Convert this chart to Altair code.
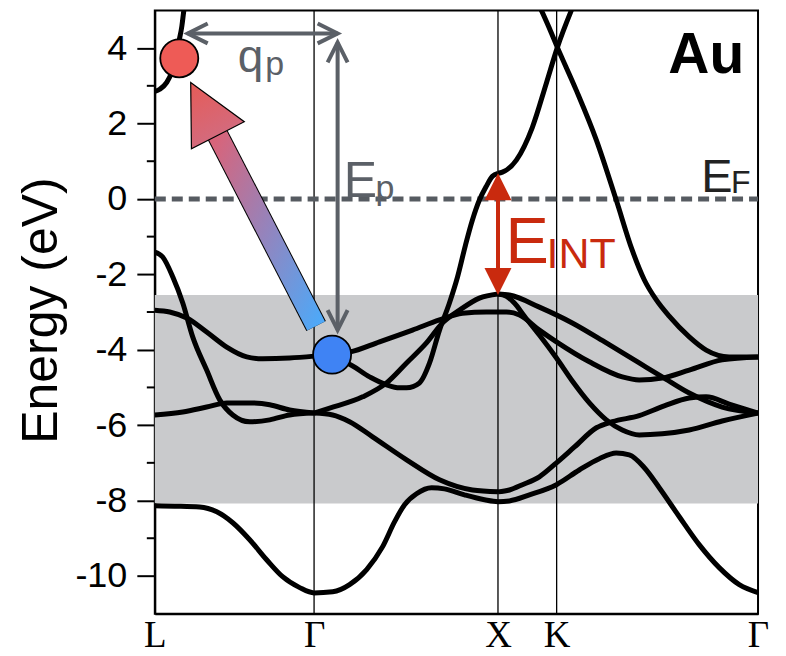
import altair as alt
import pandas as pd

# ---------------- axes / reference values ----------------
K_TICKS = [0.0, 0.866, 1.866, 2.185, 3.28]
K_NAMES = ["L", "Γ", "X", "K", "Γ"]
E_MAJOR = [-10, -8, -6, -4, -2, 0, 2, 4]
E_MINOR = [-9, -7, -5, -3, -1, 1, 3]
E_RANGE = [-11, 5]
D_WINDOW = [-8.08, -2.55]
E_FERMI = 0.0

# ---------------- band traces (k, E) ----------------
b1_k = [0, 0.109, 0.244, 0.337, 0.424, 0.516, 0.608, 0.695, 0.788, 0.866,
        0.967, 1.059, 1.152, 1.238, 1.304, 1.358, 1.423, 1.505, 1.575, 1.684,
        1.793, 1.866, 1.928, 2.037, 2.184, 2.308, 2.417, 2.509, 2.580, 2.662,
        2.743, 2.852, 2.960, 3.069, 3.178, 3.28]
b1_e = [-8.14, -8.15, -8.17, -8.30, -8.59, -9.04, -9.57, -10.02, -10.31, -10.45,
        -10.42, -10.23, -9.83, -9.23, -8.56, -8.11, -7.82, -7.66, -7.69, -7.85,
        -7.98, -8.03, -8.01, -7.85, -7.58, -7.19, -6.89, -6.74, -6.79, -7.13,
        -7.66, -8.43, -9.17, -9.78, -10.23, -10.44]

b2_k = [0, 0.152, 0.282, 0.391, 0.516, 0.625, 0.733, 0.866]
b2_e = [-5.73, -5.65, -5.52, -5.41, -5.41, -5.46, -5.60, -5.68]

b3_k = [0, 0.043, 0.098, 0.152, 0.206, 0.282, 0.353, 0.424, 0.516, 0.625, 0.733, 0.866]
b3_e = [-1.41, -1.54, -2.07, -2.76, -3.66, -4.54, -5.33, -5.73, -5.91, -5.86, -5.73, -5.68]

b4_k = [0, 0.081, 0.174, 0.282, 0.391, 0.500, 0.587, 0.733, 0.866]
b4_e = [-2.95, -3.00, -3.16, -3.53, -3.93, -4.19, -4.24, -4.22, -4.17]

b5_k = [0, 0.027, 0.065, 0.092, 0.114, 0.130, 0.147, 0.158, 0.168]
b5_e = [2.85, 2.91, 3.09, 3.36, 3.73, 4.15, 4.58, 5.0, 5.3]

b6_k = [0.866, 0.967, 1.059, 1.222, 1.401, 1.548, 1.673, 1.803, 1.866]
b6_e = [-4.17, -4.11, -4.06, -3.79, -3.48, -3.21, -3.03, -3.00, -3.00]

b7_k = [0.866, 0.967, 1.043, 1.168, 1.260, 1.331, 1.369, 1.439, 1.494, 1.548,
        1.602, 1.646, 1.689, 1.727, 1.765, 1.803, 1.836, 1.866]
b7_e = [-4.17, -4.27, -4.35, -4.72, -4.93, -5.01, -5.01, -4.88, -4.35, -3.48,
        -2.76, -2.07, -1.23, -0.56, -0.03, 0.34, 0.60, 0.68]

b8_k = [0.866, 0.951, 1.130, 1.260, 1.369, 1.477, 1.564, 1.657, 1.765, 1.866]
b8_e = [-5.68, -5.55, -5.25, -4.88, -4.35, -3.82, -3.29, -2.95, -2.63, -2.52]

b9_k = [0.866, 0.967, 1.059, 1.184, 1.369, 1.548, 1.727, 1.866]
b9_e = [-5.68, -5.73, -5.91, -6.31, -6.92, -7.45, -7.72, -7.77]

b10_k = [1.866, 1.890, 1.966, 2.053, 2.129, 2.189, 2.265, 2.287]
b10_e = [0.68, 0.71, 1.03, 1.90, 3.07, 4.02, 5.0, 5.26]

b11_k = [2.075, 2.102, 2.146, 2.189, 2.292, 2.401, 2.509, 2.596, 2.662, 2.727,
         2.797, 2.906, 2.998, 3.123, 3.28]
b11_e = [5.26, 5.0, 4.52, 4.02, 2.88, 1.56, -0.03, -1.36, -2.15, -2.68,
         -3.11, -3.66, -4.01, -4.19, -4.19]

b12_k = [1.866, 1.912, 1.983, 2.091, 2.184, 2.363, 2.542, 2.634, 2.759, 2.906, 3.085, 3.28]
b12_e = [-3.00, -3.00, -3.08, -3.48, -3.79, -4.32, -4.72, -4.80, -4.75, -4.54, -4.27, -4.19]

b13_k = [1.866, 1.928, 2.091, 2.270, 2.455, 2.634, 2.759, 2.906, 3.085, 3.28]
b13_e = [-2.52, -2.55, -2.87, -3.29, -3.82, -4.35, -4.72, -5.15, -5.52, -5.68]

b14_k = [1.866, 1.912, 1.955, 2.010, 2.091, 2.184, 2.270, 2.363, 2.455, 2.542,
         2.634, 2.759, 2.906, 3.085, 3.28]
b14_e = [-2.52, -2.58, -2.76, -3.11, -3.61, -4.22, -4.83, -5.41, -5.86, -6.13,
         -6.26, -6.23, -6.13, -5.89, -5.68]

b15_k = [1.866, 1.928, 1.999, 2.091, 2.184, 2.282, 2.401, 2.488, 2.634, 2.770,
         2.906, 2.998, 3.123, 3.28]
b15_e = [-7.77, -7.72, -7.58, -7.37, -7.00, -6.58, -6.07, -5.91, -5.75, -5.49,
         -5.28, -5.25, -5.44, -5.68]

BANDS = {
    "b1": (b1_k, b1_e), "b2": (b2_k, b2_e), "b3": (b3_k, b3_e), "b4": (b4_k, b4_e),
    "b5": (b5_k, b5_e), "b6": (b6_k, b6_e), "b7": (b7_k, b7_e), "b8": (b8_k, b8_e),
    "b9": (b9_k, b9_e), "b10": (b10_k, b10_e), "b11": (b11_k, b11_e),
    "b12": (b12_k, b12_e), "b13": (b13_k, b13_e), "b14": (b14_k, b14_e),
    "b15": (b15_k, b15_e),
}

# ---------------- annotation geometry (data units) ----------------
HOT_ELECTRON = (0.133, 3.73)     # red circle
HOLE = (0.964, -4.13)            # blue circle
ARROW_TAIL = (0.877, -3.37)
ARROW_HEAD_BASE = (0.342, 1.69)
ARROW_HEAD_CENTER = (0.269, 2.39)
QP_LINE = (0.179, 0.994, 4.39)   # k1, k2, E
EP_LINE = (0.994, 4.15, -3.48)   # k, E1, E2
EINT_LINE = (1.866, 0.68, -2.55)

LABELS_TEXT = ["E", "F", "E", "p", "q", "p", "E", "INT"]
LABELS_K = [2.971, 3.133, 1.027, 1.200, 0.451, 0.600, 1.907, 2.130]
LABELS_E = [0.18, 0.15, 0.05, 0.0, 3.36, 3.28, -1.70, -1.83]
LABELS_FS = [47, 32, 50, 34, 46, 34, 65, 43]
GREY = "#5b6067"
RED = "#c92a0e"
LABELS_COL = ["#222222", "#222222", GREY, GREY, GREY, GREY, RED, RED]

# ---------------- data frames ----------------
rows = []
for name, (ks, es) in BANDS.items():
    for i, (k, e) in enumerate(zip(ks, es)):
        rows.append({"band": name, "i": i, "k": k, "E": e})
band_df = pd.DataFrame(rows)

x_scale = alt.Scale(domain=[K_TICKS[0], K_TICKS[-1]], nice=False, zero=False)
y_scale = alt.Scale(domain=E_RANGE, nice=False, zero=False)

mids = [(a + b) / 2 for a, b in zip(K_TICKS[:-1], K_TICKS[1:])]
expr = f"'{K_NAMES[-1]}'"
for m, n in reversed(list(zip(mids, K_NAMES[:-1]))):
    expr = f"datum.value < {m:.4f} ? '{n}' : ({expr})"

x_axis = alt.Axis(values=K_TICKS, labelExpr=expr, ticks=False, grid=False,
                  domainColor="black", domainWidth=2, labelFont="Liberation Serif",
                  labelFontSize=37, labelColor="black", labelPadding=4,
                  labelFlush=False, labelOverlap=False, title=None)
y_axis = alt.Axis(values=E_MAJOR, tickSize=18, tickWidth=2, tickColor="black",
                  domainColor="black", domainWidth=2, labelFontSize=36,
                  labelFont="Liberation Sans", labelColor="black", labelPadding=10,
                  labelExpr="'' + datum.value", grid=False, title="Energy (eV)",
                  titleFontSize=50, titleFont="Liberation Sans", titleFontWeight="normal",
                  titleColor="black", titleAngle=270, titleX=-98, titleY=300,
                  titleAlign="center", titleBaseline="alphabetic")


def X(f="k"):
    return alt.X(f"{f}:Q", scale=x_scale, axis=x_axis)


def Y(f="E"):
    return alt.Y(f"{f}:Q", scale=y_scale, axis=y_axis)


# shaded window
rect = alt.Chart(pd.DataFrame({"k": [K_TICKS[0]], "k2": [K_TICKS[-1]],
                               "E": [D_WINDOW[0]], "E2": [D_WINDOW[1]]})).mark_rect(
    color="#c9cacc").encode(x=X(), x2="k2:Q", y=Y(), y2="E2:Q")

# vertical symmetry lines
vlines = alt.Chart(pd.DataFrame({"k": K_TICKS[1:4], "E": [E_RANGE[0]] * 3,
                                 "E2": [E_RANGE[1]] * 3})).mark_rule(
    color="black", strokeWidth=1.3).encode(x=X(), y=Y(), y2="E2:Q")

# Fermi level
fermi = alt.Chart(pd.DataFrame({"k": [K_TICKS[0]], "k2": [K_TICKS[-1]], "E": [E_FERMI]})).mark_rule(
    color="#565b61", strokeWidth=5, strokeDash=[11, 6]).encode(x=X(), x2="k2:Q", y=Y())

# bands
bands = alt.Chart(band_df).mark_line(interpolate="monotone", strokeWidth=5, color="black",
                                     clip=True).encode(
    x=X(), y=Y(), detail="band:N", order="i:Q")

# minor ticks
minor = alt.Chart(pd.DataFrame({"E": E_MINOR})).mark_rule(color="black", strokeWidth=2).encode(
    y=Y(), x=alt.value(-8), x2=alt.value(0))

# grey double arrows (q_p and E_p)
grey_lines = alt.Chart(pd.DataFrame({
    "k": [QP_LINE[0], EP_LINE[0]], "k2": [QP_LINE[1], EP_LINE[0]],
    "E": [QP_LINE[2], EP_LINE[1]], "E2": [QP_LINE[2], EP_LINE[2]]})).mark_rule(
    color=GREY, strokeWidth=4).encode(x=X(), x2="k2:Q", y=Y(), y2="E2:Q")

CHEV_L = "M1,-0.5L0,0L1,0.5"
CHEV_R = "M-1,-0.5L0,0L-1,0.5"
CHEV_U = "M-0.5,1L0,0L0.5,1"
CHEV_D = "M-0.5,-1L0,0L0.5,-1"
chev = alt.Chart(pd.DataFrame({
    "k": [QP_LINE[0], QP_LINE[1], EP_LINE[0], EP_LINE[0]],
    "E": [QP_LINE[2], QP_LINE[2], EP_LINE[1], EP_LINE[2]],
    "shape": [CHEV_L, CHEV_R, CHEV_U, CHEV_D]})).mark_point(
    filled=False, strokeWidth=4, size=1600, opacity=1, color=GREY).encode(
    x=X(), y=Y(), shape=alt.Shape("shape:N", scale=None, legend=None))

# red E_INT arrow
eint_line = alt.Chart(pd.DataFrame({"k": [EINT_LINE[0]], "E": [EINT_LINE[1] - 0.3],
                                    "E2": [EINT_LINE[2] + 0.3]})).mark_rule(
    color=RED, strokeWidth=4).encode(x=X(), y=Y(), y2="E2:Q")
eint_heads = alt.Chart(pd.DataFrame({
    "k": [EINT_LINE[0], EINT_LINE[0]], "E": [EINT_LINE[1], EINT_LINE[2]],
    "shape": ["M0,0L0.5,1L-0.5,1Z", "M0,0L0.5,-1L-0.5,-1Z"]})).mark_point(
    filled=True, size=2916, opacity=1, color=RED, strokeWidth=0).encode(
    x=X(), y=Y(), shape=alt.Shape("shape:N", scale=None, legend=None))

# gradient excitation arrow
arrow_df = pd.DataFrame({"k": [ARROW_TAIL[0], ARROW_HEAD_BASE[0]],
                         "E": [ARROW_TAIL[1], ARROW_HEAD_BASE[1]]})
shaft_outline = alt.Chart(arrow_df).mark_line(color="black", strokeWidth=22,
                                              strokeCap="butt").encode(x=X(), y=Y())
shaft_grad = alt.LinearGradient(
    gradient="linear",
    stops=[alt.GradientStop(color="#4fa8f7", offset=0),
           alt.GradientStop(color="#9484bd", offset=0.5),
           alt.GradientStop(color="#d8647a", offset=1)],
    x1=1, y1=1, x2=0, y2=0)
shaft = alt.Chart(arrow_df).mark_line(stroke=shaft_grad, strokeWidth=20,
                                      strokeCap="butt").encode(x=X(), y=Y())
head_grad = alt.LinearGradient(
    gradient="linear",
    stops=[alt.GradientStop(color="#d46a7c", offset=0),
           alt.GradientStop(color="#e65b57", offset=1)],
    x1=0.5, y1=1, x2=0.5, y2=0)
head = alt.Chart(pd.DataFrame({"k": [ARROW_HEAD_CENTER[0]], "E": [ARROW_HEAD_CENTER[1]]})).mark_point(
    shape="M0,-1L1,1L-1,1Z", size=3540, angle=332.8, filled=True, fill=head_grad,
    stroke="black", strokeWidth=1.2, opacity=1).encode(x=X(), y=Y())

# circles
circles = alt.Chart(pd.DataFrame({
    "k": [HOT_ELECTRON[0], HOLE[0]], "E": [HOT_ELECTRON[1], HOLE[1]],
    "col": ["#ee5b56", "#3f83f4"]})).mark_circle(
    size=1450, opacity=1, stroke="black", strokeWidth=1.8).encode(
    x=X(), y=Y(), fill=alt.Fill("col:N", scale=None, legend=None))

# labels
labels = alt.Chart(pd.DataFrame({"text": LABELS_TEXT, "k": LABELS_K, "E": LABELS_E,
                                 "fs": LABELS_FS, "col": LABELS_COL})).mark_text(
    align="left", baseline="alphabetic", font="Liberation Sans").encode(
    x=X(), y=Y(), text="text:N",
    size=alt.Size("fs:Q", scale=None, legend=None),
    color=alt.Color("col:N", scale=None, legend=None))

au = alt.Chart(pd.DataFrame({"text": ["Au"], "k": [3.205], "E": [3.33]})).mark_text(
    align="right", baseline="alphabetic", font="Liberation Sans", fontWeight="bold",
    fontSize=57, color="black").encode(x=X(), y=Y(), text="text:N")

chart = alt.layer(
    rect, vlines, fermi, bands, minor, grey_lines, chev, eint_line, eint_heads,
    shaft_outline, shaft, head, circles, labels, au
).properties(
    width=604, height=604,
    padding={"left": 147, "top": 2, "right": 20, "bottom": 44},
    autosize=alt.AutoSizeParams(type="none"),
).configure_view(stroke="black", strokeWidth=2)

chart.save("out.html", embed_options={"renderer": "svg", "actions": False})
